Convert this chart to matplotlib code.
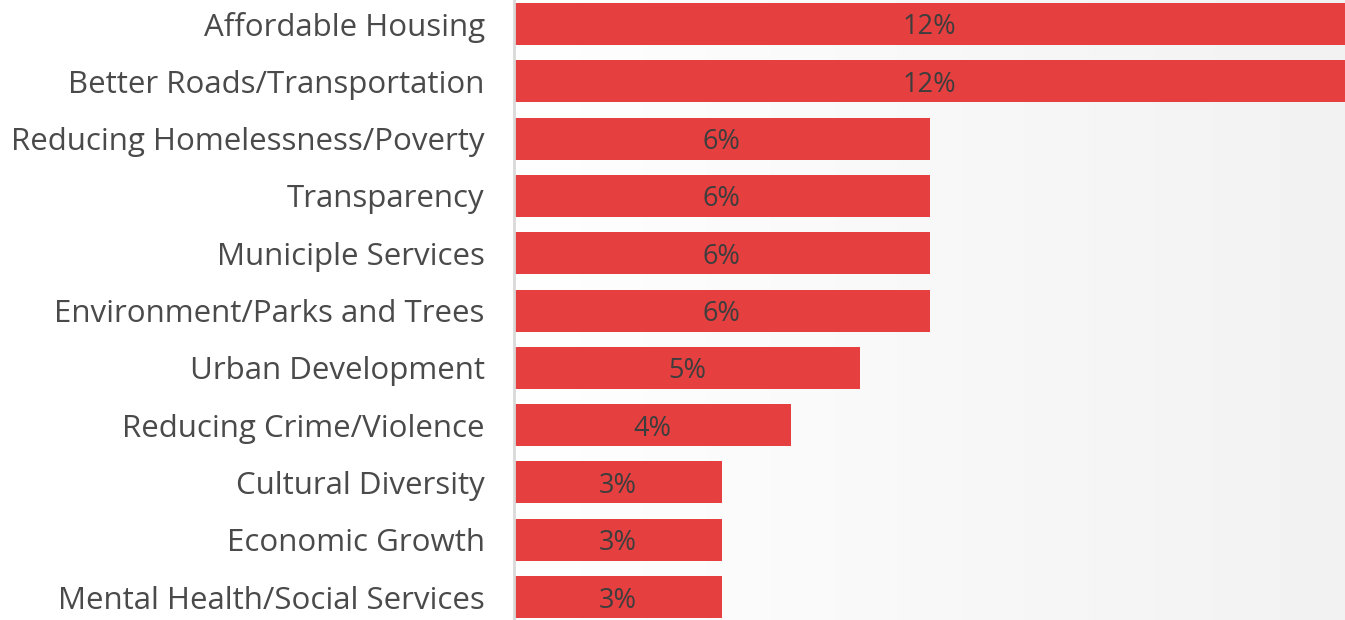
import matplotlib
matplotlib.use("Agg")
import matplotlib.pyplot as plt
import numpy as np
from matplotlib.colors import LinearSegmentedColormap

categories = [
    "Affordable Housing",
    "Better Roads/Transportation",
    "Reducing Homelessness/Poverty",
    "Transparency",
    "Municiple Services",
    "Environment/Parks and Trees",
    "Urban Development",
    "Reducing Crime/Violence",
    "Cultural Diversity",
    "Economic Growth",
    "Mental Health/Social Services",
]
values = [12, 12, 6, 6, 6, 6, 5, 4, 3, 3, 3]

FONT = ["Open Sans", "DejaVu Sans"]
BAR_COLOR = "#e53f40"
LABEL_COLOR = "#4a4a4a"
VALUE_COLOR = "#3d3d3d"

fig = plt.figure(figsize=(13.45, 6.2), dpi=100)
ax = fig.add_axes([514 / 1345, 0, 831 / 1345, 1])

y = np.arange(len(categories))
ax.set_xlim(0, 12)
ax.set_ylim(10.40, -0.419)

# soft horizontal background gradient: white on the left, light grey on the right
grad = LinearSegmentedColormap.from_list("bg", ["#ffffff", "#f2f2f2"])
ax.imshow(np.linspace(0, 1, 256).reshape(1, -1), cmap=grad, aspect="auto",
          extent=[0, 12, 10.40, -0.419], zorder=0)

ax.barh(y, values, height=0.733, color=BAR_COLOR, zorder=2)

for yi, v in zip(y, values):
    ax.text(v / 2, yi + 0.06, f"{v}%", ha="center", va="center",
            fontsize=19.5, color=VALUE_COLOR, family=FONT, zorder=3)

ax.set_yticks(y)
ax.set_yticklabels(categories, fontsize=22.5, color=LABEL_COLOR, family=FONT)
ax.tick_params(axis="y", length=0, pad=21)
ax.set_xticks([])

for side in ("top", "right", "bottom"):
    ax.spines[side].set_visible(False)
ax.spines["left"].set_color("#d9d9d9")
ax.spines["left"].set_linewidth(2)
ax.spines["left"].set_zorder(4)

fig.savefig("out.png", dpi=100)
